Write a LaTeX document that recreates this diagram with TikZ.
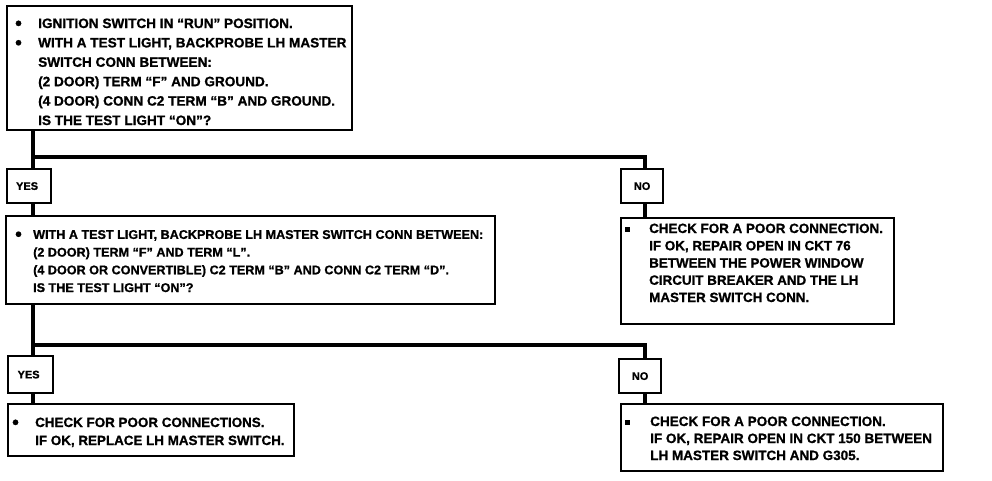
\documentclass[tikz,border=0pt]{standalone}
\usepackage{fontspec}
\setmainfont[BoldFeatures={FakeBold=1}]{Liberation Sans}
\begin{document}
\begin{tikzpicture}[x=1pt,y=-1pt]
\tikzset{
  box/.style={draw, line width=2.2pt, rectangle, inner sep=0pt, anchor=north west},
  conn/.style={line width=4.5pt},
  txt/.style={anchor=base west, align=left, inner sep=0pt},
  lbl/.style={inner sep=0pt, font=\bfseries\fontsize{11}{11}\selectfont},
}
\newcommand\bl[1]{\makebox[#1][l]{\raisebox{-1.6pt}{\fontsize{19}{19}\selectfont\textbullet}}}
\newcommand\sq[1]{\makebox[#1][l]{\raisebox{1.5pt}{\rule{5pt}{5pt}}}}
\useasboundingbox (0,0) rectangle (992,480);
\fill[white] (0,0) rectangle (992,480);

% boxes
\node[box, minimum width=345pt, minimum height=124pt] (q1) at (6,5) {};
\node[box, minimum width=44pt, minimum height=34pt] (yes1) at (6,168) {};
\node[box, minimum width=42pt, minimum height=34pt] (no1) at (620,168) {};
\node[box, minimum width=489pt, minimum height=88pt] (q2) at (5,215) {};
\node[box, minimum width=273pt, minimum height=106pt] (r1) at (620,217) {};
\node[box, minimum width=45pt, minimum height=37pt] (yes2) at (7,355) {};
\node[box, minimum width=42pt, minimum height=34pt] (no2) at (618,358) {};
\node[box, minimum width=286pt, minimum height=52pt] (r2) at (7,403) {};
\node[box, minimum width=322pt, minimum height=67pt] (r3) at (620,403) {};

% labels
\node[lbl] (tyes1) at ([xshift=-2pt]yes1.center) {YES};
\node[lbl] (tno1) at (no1.center) {NO};
\node[lbl] (tyes2) at ([xshift=-2pt]yes2.center) {YES};
\node[lbl] (tno2) at (no2.center) {NO};

% texts (anchor = baseline of the last line)
\node[txt, font=\bfseries\fontsize{13.6}{19.4}\selectfont] (t1) at (15,125) {%
\bl{23pt}IGNITION SWITCH IN “RUN” POSITION.\\
\bl{23pt}WITH A TEST LIGHT, BACKPROBE LH MASTER\\
\hspace*{23pt}SWITCH CONN BETWEEN:\\
\hspace*{23pt}(2 DOOR) TERM “F” AND GROUND.\\
\hspace*{23pt}(4 DOOR) CONN C2 TERM “B” AND GROUND.\\
\hspace*{23pt}IS THE TEST LIGHT “ON”?};

\node[txt, font=\bfseries\fontsize{12.6}{17.7}\selectfont] (t2) at (15,292) {%
\bl{18pt}WITH A TEST LIGHT, BACKPROBE LH MASTER SWITCH CONN BETWEEN:\\
\hspace*{18pt}(2 DOOR) TERM “F” AND TERM “L”.\\
\hspace*{18pt}(4 DOOR OR CONVERTIBLE) C2 TERM “B” AND CONN C2 TERM “D”.\\
\hspace*{18pt}IS THE TEST LIGHT “ON”?};

\node[txt, font=\bfseries\fontsize{13.4}{17.25}\selectfont] (t3) at (625,302) {%
\sq{24pt}CHECK FOR A POOR CONNECTION.\\
\hspace*{24pt}IF OK, REPAIR OPEN IN CKT 76\\
\hspace*{24pt}BETWEEN THE POWER WINDOW\\
\hspace*{24pt}CIRCUIT BREAKER AND THE LH\\
\hspace*{24pt}MASTER SWITCH CONN.};

\node[txt, font=\bfseries\fontsize{13.4}{18}\selectfont] (t4) at (12,445) {%
\bl{23pt}CHECK FOR POOR CONNECTIONS.\\
\hspace*{23pt}IF OK, REPLACE LH MASTER SWITCH.};

\node[txt, font=\bfseries\fontsize{13.5}{17}\selectfont] (t5) at (625,460) {%
\sq{25pt}CHECK FOR A POOR CONNECTION.\\
\hspace*{25pt}IF OK, REPAIR OPEN IN CKT 150 BETWEEN\\
\hspace*{25pt}LH MASTER SWITCH AND G305.};

% connectors
\coordinate (trunk) at (33,0);
\coordinate (nob) at (645,0);
\coordinate (h1) at (0,157);
\coordinate (h2) at (0,345);
\draw[conn] (trunk |- q1.south) -- (trunk |- yes1.north);
\draw[conn] (trunk |- yes1.south) -- (trunk |- q2.north);
\draw[conn] (trunk |- q2.south) -- (trunk |- yes2.north);
\draw[conn] (trunk |- yes2.south) -- (trunk |- r2.north);
\draw[conn] (trunk |- h1) -- ([xshift=2.25pt]nob |- h1) ;
\draw[conn] (nob |- h1) -- (nob |- no1.north);
\draw[conn] (nob |- no1.south) -- (nob |- r1.north);
\draw[conn] (trunk |- h2) -- ([xshift=2.25pt]nob |- h2);
\draw[conn] (nob |- h2) -- (nob |- no2.north);
\draw[conn] (nob |- no2.south) -- (nob |- r3.north);
\end{tikzpicture}
\end{document}
